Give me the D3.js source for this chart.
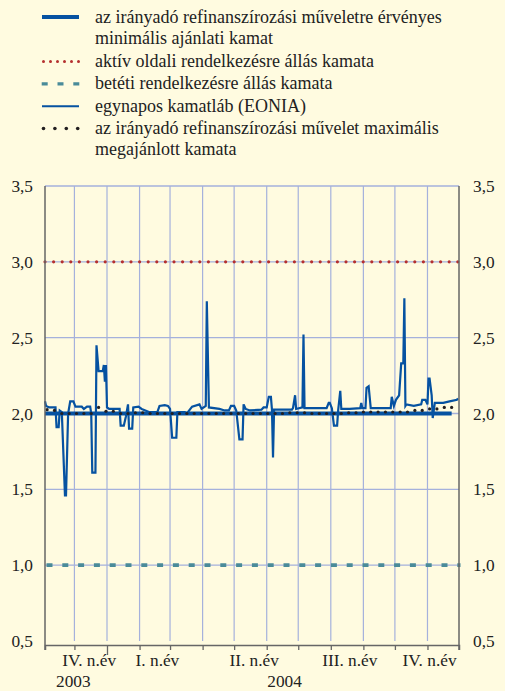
<!DOCTYPE html>
<html><head><meta charset="utf-8">
<script src="https://cdn.jsdelivr.net/npm/d3@7"></script>
<style>
html,body{margin:0;padding:0;background:#fffbe0;}
svg{display:block;}
</style></head><body>
<svg id="chart" width="505" height="691"></svg>
<script>
// ---------- DATA ----------
const eoniaDates = [
"2003-11-03","2003-11-04","2003-11-07","2003-11-13","2003-11-14","2003-11-16","2003-11-17","2003-11-19",
"2003-11-22","2003-11-23","2003-11-25","2003-11-27","2003-11-30","2003-12-02","2003-12-08","2003-12-10",
"2003-12-13","2003-12-16","2003-12-17","2003-12-18","2003-12-21","2003-12-22","2003-12-24","2003-12-28",
"2003-12-29","2003-12-30","2003-12-31","2004-01-01","2004-01-03","2004-01-13","2004-01-14","2004-01-17",
"2004-01-19","2004-01-21","2004-01-22","2004-01-25","2004-01-26","2004-01-31","2004-02-03","2004-02-10",
"2004-02-18","2004-02-20","2004-02-25","2004-02-28","2004-03-01","2004-03-03","2004-03-07","2004-03-08",
"2004-03-15","2004-03-17","2004-03-22","2004-03-29","2004-03-31","2004-04-04","2004-04-05","2004-04-07",
"2004-04-17","2004-04-22","2004-04-26","2004-04-28","2004-05-01","2004-05-03","2004-05-06","2004-05-09",
"2004-05-10","2004-05-12","2004-05-16","2004-05-27","2004-05-29","2004-06-01","2004-06-03","2004-06-05",
"2004-06-06","2004-06-07","2004-06-08","2004-06-25","2004-06-26","2004-06-28","2004-06-29","2004-07-05",
"2004-07-06","2004-07-07","2004-07-28","2004-07-30","2004-07-31","2004-08-02","2004-08-04","2004-08-07",
"2004-08-08","2004-08-10","2004-08-11","2004-08-19","2004-08-29","2004-08-30","2004-08-31","2004-09-03",
"2004-09-04","2004-09-06","2004-09-08","2004-09-27","2004-09-28","2004-09-30","2004-10-02","2004-10-05",
"2004-10-07","2004-10-09","2004-10-10","2004-10-11","2004-10-12","2004-10-19","2004-10-26","2004-10-27",
"2004-10-30","2004-11-01","2004-11-02","2004-11-03","2004-11-05","2004-11-06","2004-11-08","2004-11-16",
"2004-11-22","2004-11-29","2004-11-30"];
const eoniaValues = [
2.08,2.05,2.04,2.04,1.91,1.91,2.02,2.01,
1.46,1.46,2.00,2.08,2.08,2.045,2.045,2.03,
2.045,2.045,2.00,1.61,1.61,2.45,2.28,2.28,
2.32,2.21,2.32,2.04,2.03,2.03,1.92,1.92,
1.98,2.06,1.90,1.90,2.04,2.045,2.03,2.01,
2.01,2.05,2.055,2.05,2.03,1.84,1.84,2.01,
2.01,2.00,2.045,2.06,2.03,2.05,2.74,2.04,
2.03,2.02,2.02,2.05,2.05,2.02,1.83,1.83,
2.06,2.03,2.02,2.025,2.04,2.04,2.11,2.11,
2.025,1.71,2.025,2.025,2.035,2.12,2.03,2.04,
2.52,2.035,2.035,2.07,2.07,2.035,1.92,1.92,
2.02,2.15,2.03,2.03,2.035,2.07,2.035,2.035,
2.17,2.18,2.035,2.035,2.11,2.05,2.09,2.12,
2.33,2.33,2.76,2.05,2.06,2.05,2.06,2.09,
2.09,2.06,2.23,2.23,2.12,1.97,2.07,2.07,
2.08,2.09,2.10];

const tenderDates = [
"2003-11-05","2003-11-12","2003-11-19","2003-11-26","2003-12-03","2003-12-10","2003-12-17","2003-12-24","2003-12-31",
"2004-01-07","2004-01-14","2004-01-21","2004-01-28","2004-02-04","2004-02-11","2004-02-18","2004-02-25",
"2004-03-03","2004-03-10","2004-03-17","2004-03-24","2004-03-31","2004-04-07","2004-04-14","2004-04-21","2004-04-28",
"2004-05-05","2004-05-12","2004-05-19","2004-05-26","2004-06-02","2004-06-09","2004-06-16","2004-06-23","2004-06-30",
"2004-07-07","2004-07-14","2004-07-21","2004-07-28","2004-08-04","2004-08-11","2004-08-18","2004-08-25",
"2004-09-01","2004-09-08","2004-09-15","2004-09-22","2004-09-29","2004-10-06","2004-10-13","2004-10-20","2004-10-27",
"2004-11-03","2004-11-10","2004-11-17","2004-11-24"];
const maxAllotValues = [
2.025,2.02,2.0,2.0,2.0,2.0,2.0,2.04,2.015,
2.015,2.0,2.0,2.005,2.005,2.0,2.0,2.0,
2.0,2.0,2.0,2.0,2.0,2.0,2.0,2.0,2.0,
2.0,2.0,2.0,2.0,2.0,2.0,2.0,2.005,2.005,
2.005,2.0,2.0,2.0,2.0,2.0,2.005,2.005,
2.01,2.01,2.01,2.01,2.01,2.01,2.01,2.02,2.02,
2.03,2.03,2.04,2.04];

const minBidDates = ["2003-11-03","2004-11-24"];
const minBidValues = [2.0, 2.0];
const marginalDates = ["2003-11-03","2004-12-01"];
const marginalValues = [3.0, 3.0];
const depositDates = ["2003-11-03","2004-12-01"];
const depositValues = [1.0, 1.0];

const xDomain = ["2003-11-03","2004-12-01"];
const yTicks = [0.5,1.0,1.5,2.0,2.5,3.0,3.5];
const quarterLabels = ["IV. n.év","I. n.év","II. n.év","III. n.év","IV. n.év"];
const quarterLabelDates = ["2003-12-15","2004-02-18","2004-05-20","2004-08-19","2004-11-03"];
const yearLabels = ["2003","2004"];
const yearLabelDates = ["2003-11-30","2004-06-18"];

const legendLabels = [
  ["az irányadó refinanszírozási műveletre érvényes","minimális ajánlati kamat"],
  ["aktív oldali rendelkezésre állás kamata"],
  ["betéti rendelkezésre állás kamata"],
  ["egynapos kamatláb (EONIA)"],
  ["az irányadó refinanszírozási művelet maximális","megajánlott kamata"]
];
const legendKeys = ["minbid","marginal","deposit","eonia","maxallot"];

// ---------- STYLE ----------
const FONT = "'Liberation Serif', 'DejaVu Serif', 'Times New Roman', Times, serif";
const C = {
  blue:"#0652a1", red:"#b5302f", teal:"#4a8b99", dots:"#231f20",
  grid:"#a5b1dc", axis:"#666", text:"#222"
};

const parse = d3.timeParse("%Y-%m-%d");
const svg = d3.select("#chart");
const x = d3.scaleTime().domain(xDomain.map(parse)).range([45, 459]);
const y = d3.scaleLinear().domain([0.5, 3.5]).range([641, 186]);
const [x0, x1] = x.range();
const yBot = y(0.5), yTop = y(3.5);
const axisY = yBot + 4;

// gridlines
const gGrid = svg.append("g");
gGrid.selectAll("line.h").data(yTicks.filter(v => v > 0.5)).join("line")
  .attr("x1", x0).attr("x2", x1).attr("y1", d => y(d)).attr("y2", d => y(d))
  .attr("stroke", C.grid).attr("stroke-width", 1.3);
const months = d3.timeMonth.range(d3.timeMonth.ceil(x.domain()[0]), x.domain()[1]);
gGrid.selectAll("line.v").data(months).join("line")
  .attr("x1", d => x(d)).attr("x2", d => x(d)).attr("y1", yTop).attr("y2", yBot)
  .attr("stroke", C.grid).attr("stroke-width", 1.2);

// series
const pairs = (ds, vs) => ds.map((d, i) => ({date: parse(d), v: vs[i]}));
const line = d3.line().x(d => x(d.date)).y(d => y(d.v));

svg.append("path").datum(pairs(marginalDates, marginalValues)).attr("d", line)
  .attr("fill","none").attr("stroke", C.red).attr("stroke-width", 3.2)
  .attr("stroke-linecap","round").attr("stroke-dasharray","0 8.6");
svg.append("path").datum(pairs(depositDates, depositValues)).attr("d", line)
  .attr("fill","none").attr("stroke", C.teal).attr("stroke-width", 3.6)
  .attr("stroke-dasharray","6 9.8").attr("transform","translate(1.5,0)");
svg.append("path").datum(pairs(eoniaDates, eoniaValues)).attr("d", line)
  .attr("fill","none").attr("stroke", C.blue).attr("stroke-width", 2.2)
  .attr("stroke-linejoin","miter");
svg.append("path").datum(pairs(minBidDates, minBidValues)).attr("d", line)
  .attr("fill","none").attr("stroke", C.blue).attr("stroke-width", 4.2);
svg.append("g").selectAll("circle").data(pairs(tenderDates, maxAllotValues)).join("circle")
  .attr("cx", d => x(d.date)).attr("cy", d => y(d.v)).attr("r", 1.6).attr("fill", C.dots);

// frame / axes
const gAx = svg.append("g");
gAx.append("line").attr("x1", x0).attr("x2", x0).attr("y1", yTop).attr("y2", axisY + 5)
  .attr("stroke", C.axis).attr("stroke-width", 1.5);
gAx.append("line").attr("x1", x1).attr("x2", x1).attr("y1", yTop).attr("y2", axisY + 5)
  .attr("stroke", C.axis).attr("stroke-width", 1.5);

const xAxis = d3.axisBottom(x).tickValues(months).tickSize(5).tickSizeOuter(5).tickFormat("");
const gx = svg.append("g").attr("transform", `translate(0,${axisY})`).call(xAxis);
gx.select(".domain").attr("stroke", C.axis).attr("stroke-width", 1.5);
gx.selectAll(".tick line").attr("stroke", C.axis).attr("stroke-width", 1.3)
  .filter(d => d.getMonth() === 0).attr("y2", 10);

const fmt = d => d.toFixed(1).replace(".", ",");
const yL = d3.axisLeft(y).tickValues(yTicks).tickSize(0).tickPadding(12).tickFormat(fmt);
const gyl = svg.append("g").attr("transform", `translate(${x0},0)`).call(yL);
const yR = d3.axisRight(y).tickValues(yTicks).tickSize(0).tickPadding(14).tickFormat(fmt);
const gyr = svg.append("g").attr("transform", `translate(${x1},0)`).call(yR);
[gyl, gyr].forEach(g => {
  g.attr("font-family", null).attr("font-size", null);
  g.select(".domain").remove();
  g.selectAll("text").style("font-family", FONT).style("font-size", "17.3px").attr("fill", C.text);
});

// x labels
svg.append("g").selectAll("text").data(quarterLabels).join("text")
  .attr("x", (d, i) => x(parse(quarterLabelDates[i]))).attr("y", 666)
  .attr("text-anchor","middle").style("font-family", FONT).style("font-size","17.3px")
  .attr("fill", C.text).text(d => d);
svg.append("g").selectAll("text").data(yearLabels).join("text")
  .attr("x", (d, i) => x(parse(yearLabelDates[i]))).attr("y", 687)
  .attr("text-anchor","middle").style("font-family", FONT).style("font-size","17.3px")
  .attr("fill", C.text).text(d => d);

// legend
const lg = svg.append("g");
const lineH = 22.3;
let row = 0;
legendLabels.forEach((lines, i) => {
  const base = 22.5 + row * lineH;
  const sy = base - 5.5;
  const key = legendKeys[i];
  if (key === "minbid") {
    lg.append("line").attr("x1", 42).attr("x2", 79).attr("y1", sy).attr("y2", sy)
      .attr("stroke", C.blue).attr("stroke-width", 4);
  } else if (key === "marginal") {
    lg.append("line").attr("x1", 43.5).attr("x2", 79).attr("y1", sy).attr("y2", sy)
      .attr("stroke", C.red).attr("stroke-width", 3).attr("stroke-linecap","round")
      .attr("stroke-dasharray","0 7");
  } else if (key === "deposit") {
    lg.append("line").attr("x1", 41.7).attr("x2", 79.5).attr("y1", sy).attr("y2", sy)
      .attr("stroke", C.teal).attr("stroke-width", 3.4).attr("stroke-dasharray","6 9.8");
  } else if (key === "eonia") {
    lg.append("line").attr("x1", 42).attr("x2", 79).attr("y1", sy).attr("y2", sy)
      .attr("stroke", C.blue).attr("stroke-width", 2);
  } else {
    lg.selectAll(null).data([0,1,2,3]).join("circle")
      .attr("cx", d => 43.5 + d * 11.4).attr("cy", sy).attr("r", 1.8).attr("fill", C.dots);
  }
  lines.forEach((t, j) => {
    lg.append("text").attr("x", 95).attr("y", base + j * lineH - (j ? 1 : 0))
      .style("font-family", FONT).style("font-size","18px").attr("fill", C.text).text(t);
  });
  row += lines.length;
});
</script>
</body></html>
